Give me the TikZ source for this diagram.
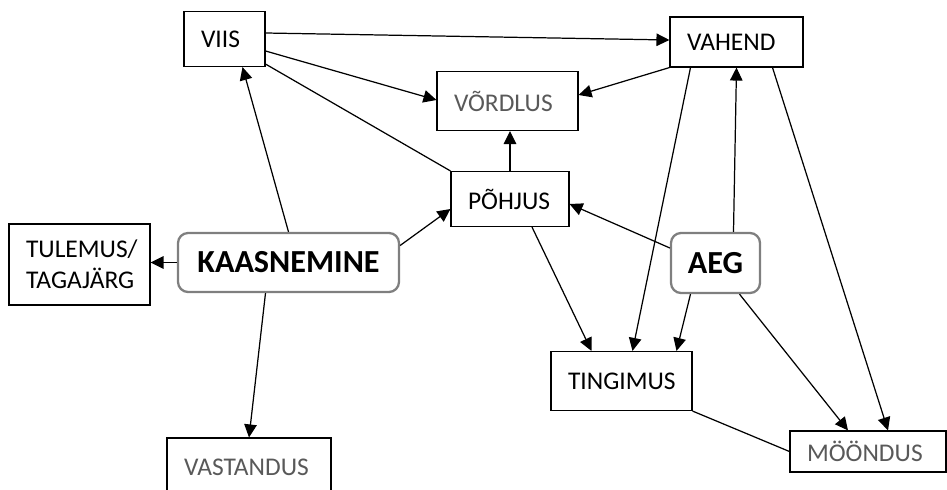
\documentclass[tikz,border=0pt]{standalone}
\usepackage{fontspec}
\setmainfont{Carlito}
\usepackage{tikz}
\usetikzlibrary{arrows.meta,calc}
\definecolor{txtgray}{HTML}{595959}
\definecolor{framegray}{HTML}{7F7F7F}

\tikzset{
  box/.style={draw=black, line width=0.65pt, rectangle, inner xsep=0.34cm, inner ysep=0pt,
    align=left, font=\fontsize{14.5}{17.5}\selectfont},
  mainbox/.style={draw=framegray, line width=1.3pt, rounded corners=0.2cm, align=center,
    font=\fontsize{18.3}{21}\selectfont\bfseries},
  link/.style={line width=0.7pt, -{Triangle[length=0.26cm,width=0.25cm]}},
  plain/.style={line width=0.7pt},
}

\begin{document}
\begin{tikzpicture}[x=0.02cm,y=-0.02cm]
  \useasboundingbox (0,0) rectangle (947,490);

  % boxes
  \node[box, text width=0.94cm, minimum height=1.1cm] (viis) at (224.5,39) {VIIS};
  \node[box, text width=1.98cm, minimum height=1.0cm] (vahend) at (736.5,42) {VAHEND};
  \node[box, text width=2.14cm, minimum height=1.18cm, text=txtgray] (vordlus) at (507.5,101) {VÕRDLUS};
  \node[box, text width=1.68cm, minimum height=1.1cm] (pohjus) at (510,199) {PÕHJUS};
  \node[box, text width=2.14cm, minimum height=1.62cm] (tulemus) at (79.5,264.5) {TULEMUS/\\TAGAJÄRG};
  \node[box, text width=2.14cm, minimum height=1.18cm] (tingimus) at (621.5,381) {TINGIMUS};
  \node[box, text width=2.44cm, minimum height=0.82cm, text=txtgray] (moondus) at (868,451.5) {MÖÖNDUS};
  \node[box, text width=2.60cm, minimum height=1.16cm, text=txtgray] (vastandus) at (249,467) {VASTANDUS};

  % main concepts
  \node[mainbox, minimum width=4.42cm, minimum height=1.18cm] (kaas) at (288.5,262.5) {KAASNEMINE};
  \node[mainbox, minimum width=1.78cm, minimum height=1.2cm] (aeg) at (715.5,263) {AEG};

  % connectors
  \draw[link] ($(viis.east)+(0,-6)$) -- ($(vahend.west)+(0,-2)$);
  \draw[link] ($(viis.east)+(0,12)$) -- ($(vordlus.west)+(0,-1)$);
  \draw[plain] ($(viis.south east)+(0,-3)$) -- (pohjus.north west);
  \draw[link] (vahend.south west) -- ($(vordlus.east)+(0,-6)$);
  \draw[link] (pohjus.north) -- (vordlus.south -| pohjus.north);

  \draw[link] (kaas.north) -- ($(viis.south)+(18,0)$);
  \draw[link] (kaas.west) -- (kaas.west -| tulemus.east);
  \draw[link] ($(kaas.east)+(0,-17)$) -- ($(pohjus.west)+(0,10)$);
  \draw[link] ($(kaas.south)+(-23,0)$) -- (vastandus.north);

  \draw[link] ($(aeg.west)+(0,-15)$) -- ($(pohjus.east)+(0,5)$);
  \draw[link] ($(aeg.north)+(18,0)$) -- (vahend.south);
  \draw[link] ($(aeg.south)+(-25,0)$) -- ($(tingimus.north)+(55,0)$);
  \draw[link] ($(aeg.south)+(24,0)$) -- ($(moondus.north)+(-20,0)$);

  \draw[link] ($(vahend.south)+(-46,0)$) -- ($(tingimus.north)+(11,0)$);
  \draw[link] ($(vahend.south)+(36,0)$) -- ($(moondus.north)+(20,0)$);
  \draw[link] ($(pohjus.south)+(22,0)$) -- ($(tingimus.north)+(-30,0)$);
  \draw[plain] (tingimus.south east) -- (moondus.west);
\end{tikzpicture}
\end{document}
